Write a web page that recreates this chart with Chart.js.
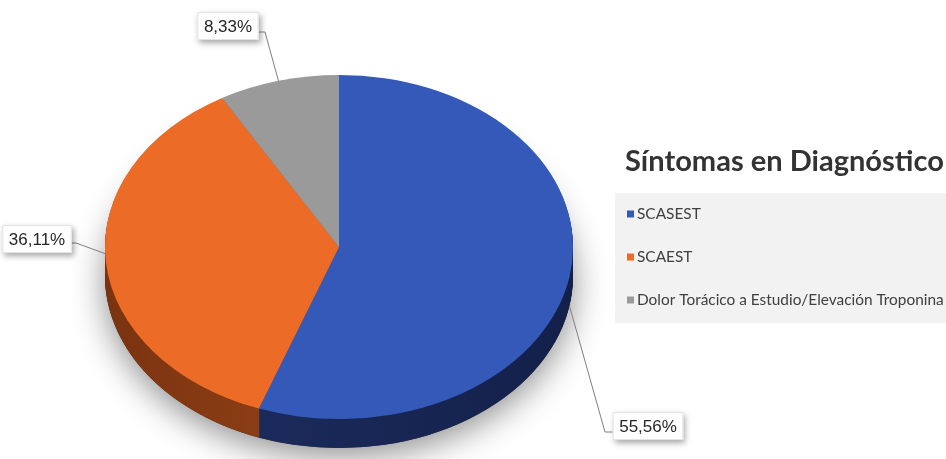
<!DOCTYPE html>
<html>
<head>
<meta charset="utf-8">
<style>
  html, body { margin: 0; padding: 0; background: #ffffff; overflow: hidden; }
  canvas { display: block; }
</style>
<script src="https://cdn.jsdelivr.net/npm/chart.js@4.4.1/dist/chart.umd.min.js"></script>
</head>
<body>
<canvas id="chart" width="946" height="459"></canvas>
<script>
// ---- data ----
const categories = ['SCASEST', 'SCAEST', 'Dolor Torácico a Estudio/Elevación Troponina'];
const shares = [55.56, 36.11, 8.33];
const chartTitle = 'Síntomas en Diagnóstico';

// ---- styling ----
const topColors = ['#3459b8', '#ec6b26', '#9a9a9a'];
const sideColors = [['#1e2f62', '#13204a'], ['#7a3310', '#ad521d'], ['#6a6a6a', '#7a7a7a']];

// tilted pie: on-screen ellipse and thickness of the rim
const PIE = { cx: 339, cy: 247, rx: 234, ry: 172, depth: 29 };

// value call-outs: text centre, elbow point and extra drop of the anchor on the rim
const CALLOUTS = [
  { tx: 648, ty: 426, elbow: [[615, 432], [605, 432]], anchorDrop: 29 },
  { tx: 37,  ty: 239, elbow: [[70, 243], [76, 243]],  anchorDrop: -8 },
  { tx: 228, ty: 26,  elbow: [[259, 32], [265, 32]],  anchorDrop: 0 }
];

const fmtPct = v => v.toFixed(2).replace('.', ',') + '%';

function pieTransform(chart) {
  const arc = chart.getDatasetMeta(0).data[0];
  const R = arc.outerRadius;
  return { x0: arc.x, y0: arc.y, R, sx: PIE.rx / R, sy: PIE.ry / R };
}

// draws the rim and drop shadow beneath the slices, then leaves the
// ellipse transform active while Chart.js paints the top faces
const pie3d = {
  id: 'pie3d',
  beforeDatasetsDraw(chart) {
    const ctx = chart.ctx;
    const arcs = chart.getDatasetMeta(0).data;
    const t = pieTransform(chart);
    ctx.save();
    ctx.translate(PIE.cx, PIE.cy);
    ctx.scale(t.sx, t.sy);
    ctx.translate(-t.x0, -t.y0);

    const dy = PIE.depth / t.sy;
    // soft shadow under the disc
    ctx.save();
    ctx.shadowColor = 'rgba(0,0,0,0.45)';
    ctx.shadowBlur = 34;
    ctx.shadowOffsetY = 8;
    ctx.fillStyle = '#333';
    ctx.beginPath();
    ctx.arc(t.x0, t.y0 + dy, t.R, 0, Math.PI * 2);
    ctx.fill();
    ctx.restore();

    // rim, stacked from the bottom up
    const grads = arcs.map((a, i) => {
      const g = ctx.createLinearGradient(t.x0 - t.R, 0, t.x0 + t.R, 0);
      g.addColorStop(0, sideColors[i][0]);
      g.addColorStop(1, sideColors[i][1]);
      return g;
    });
    for (let d = PIE.depth; d >= 1; d -= 1) {
      const oy = d / t.sy;
      arcs.forEach((a, i) => {
        ctx.beginPath();
        ctx.moveTo(a.x, a.y + oy);
        ctx.arc(a.x, a.y + oy, a.outerRadius, a.startAngle, a.endAngle);
        ctx.closePath();
        ctx.fillStyle = grads[i];
        ctx.fill();
      });
    }
  },
  afterDatasetsDraw(chart) {
    chart.ctx.restore();
  }
};

// title, legend panel and value call-outs
const decorations = {
  id: 'decorations',
  afterDraw(chart) {
    const ctx = chart.ctx;
    const arcs = chart.getDatasetMeta(0).data;
    const ds = chart.data.datasets[0];

    // title
    ctx.save();
    let size = 28;
    ctx.font = `700 ${size}px Lato`;
    size = size * 319 / ctx.measureText(chartTitle).width;
    ctx.font = `700 ${size}px Lato`;
    ctx.fillStyle = '#333333';
    ctx.textBaseline = 'alphabetic';
    ctx.fillText(chartTitle, 625, 171);

    // legend panel
    ctx.fillStyle = '#f2f2f2';
    ctx.fillRect(615, 193, 331, 130);
    let lsize = 14;
    ctx.font = `400 ${lsize}px Lato`;
    const longest = Math.max(...chart.data.labels.map(l => ctx.measureText(l).width));
    lsize = lsize * 307 / longest;
    ctx.font = `400 ${lsize}px Lato`;
    ctx.textBaseline = 'middle';
    chart.data.labels.forEach((lab, i) => {
      const y = 214 + i * 43;
      ctx.fillStyle = ds.backgroundColor[i];
      ctx.fillRect(627, y - 3.5, 7, 7);
      ctx.fillStyle = '#404040';
      ctx.fillText(lab, 637, y);
    });

    // call-outs
    ctx.font = '17px "Liberation Sans", Arial, sans-serif';
    arcs.forEach((a, i) => {
      const c = CALLOUTS[i];
      const mid = (a.startAngle + a.endAngle) / 2;
      const ax = PIE.cx + PIE.rx * Math.cos(mid);
      const ay = PIE.cy + PIE.ry * Math.sin(mid) + c.anchorDrop;
      const text = fmtPct(ds.data[i]);
      const w = ctx.measureText(text).width + 13;
      const h = 28;

      // leader
      ctx.strokeStyle = '#7f7f7f';
      ctx.lineWidth = 1;
      ctx.beginPath();
      ctx.moveTo(c.elbow[0][0], c.elbow[0][1]);
      ctx.lineTo(c.elbow[1][0], c.elbow[1][1]);
      ctx.lineTo(ax, ay);
      ctx.stroke();

      // box
      ctx.save();
      ctx.shadowColor = 'rgba(0,0,0,0.35)';
      ctx.shadowBlur = 6;
      ctx.shadowOffsetX = 2;
      ctx.shadowOffsetY = 3;
      ctx.fillStyle = '#ffffff';
      ctx.fillRect(c.tx - w / 2, c.ty - h / 2, w, h);
      ctx.restore();
      ctx.strokeStyle = '#e4e4e4';
      ctx.strokeRect(c.tx - w / 2 + 0.5, c.ty - h / 2 + 0.5, w - 1, h - 1);

      ctx.fillStyle = '#262626';
      ctx.textAlign = 'center';
      ctx.textBaseline = 'middle';
      ctx.fillText(text, c.tx, c.ty + 1);
      ctx.textAlign = 'left';
    });
    ctx.restore();
  }
};

new Chart(document.getElementById('chart'), {
  type: 'pie',
  data: {
    labels: categories,
    datasets: [{
      data: shares,
      backgroundColor: topColors,
      borderWidth: 0,
      hoverOffset: 0,
      offset: 0,
      clip: false
    }]
  },
  options: {
    responsive: false,
    animation: false,
    events: [],
    layout: { padding: { left: 167, right: 435, top: 75, bottom: 40 } },
    plugins: {
      legend: { display: false },
      tooltip: { enabled: false },
      title: { display: false }
    }
  },
  plugins: [pie3d, decorations]
});
</script>
</body>
</html>
